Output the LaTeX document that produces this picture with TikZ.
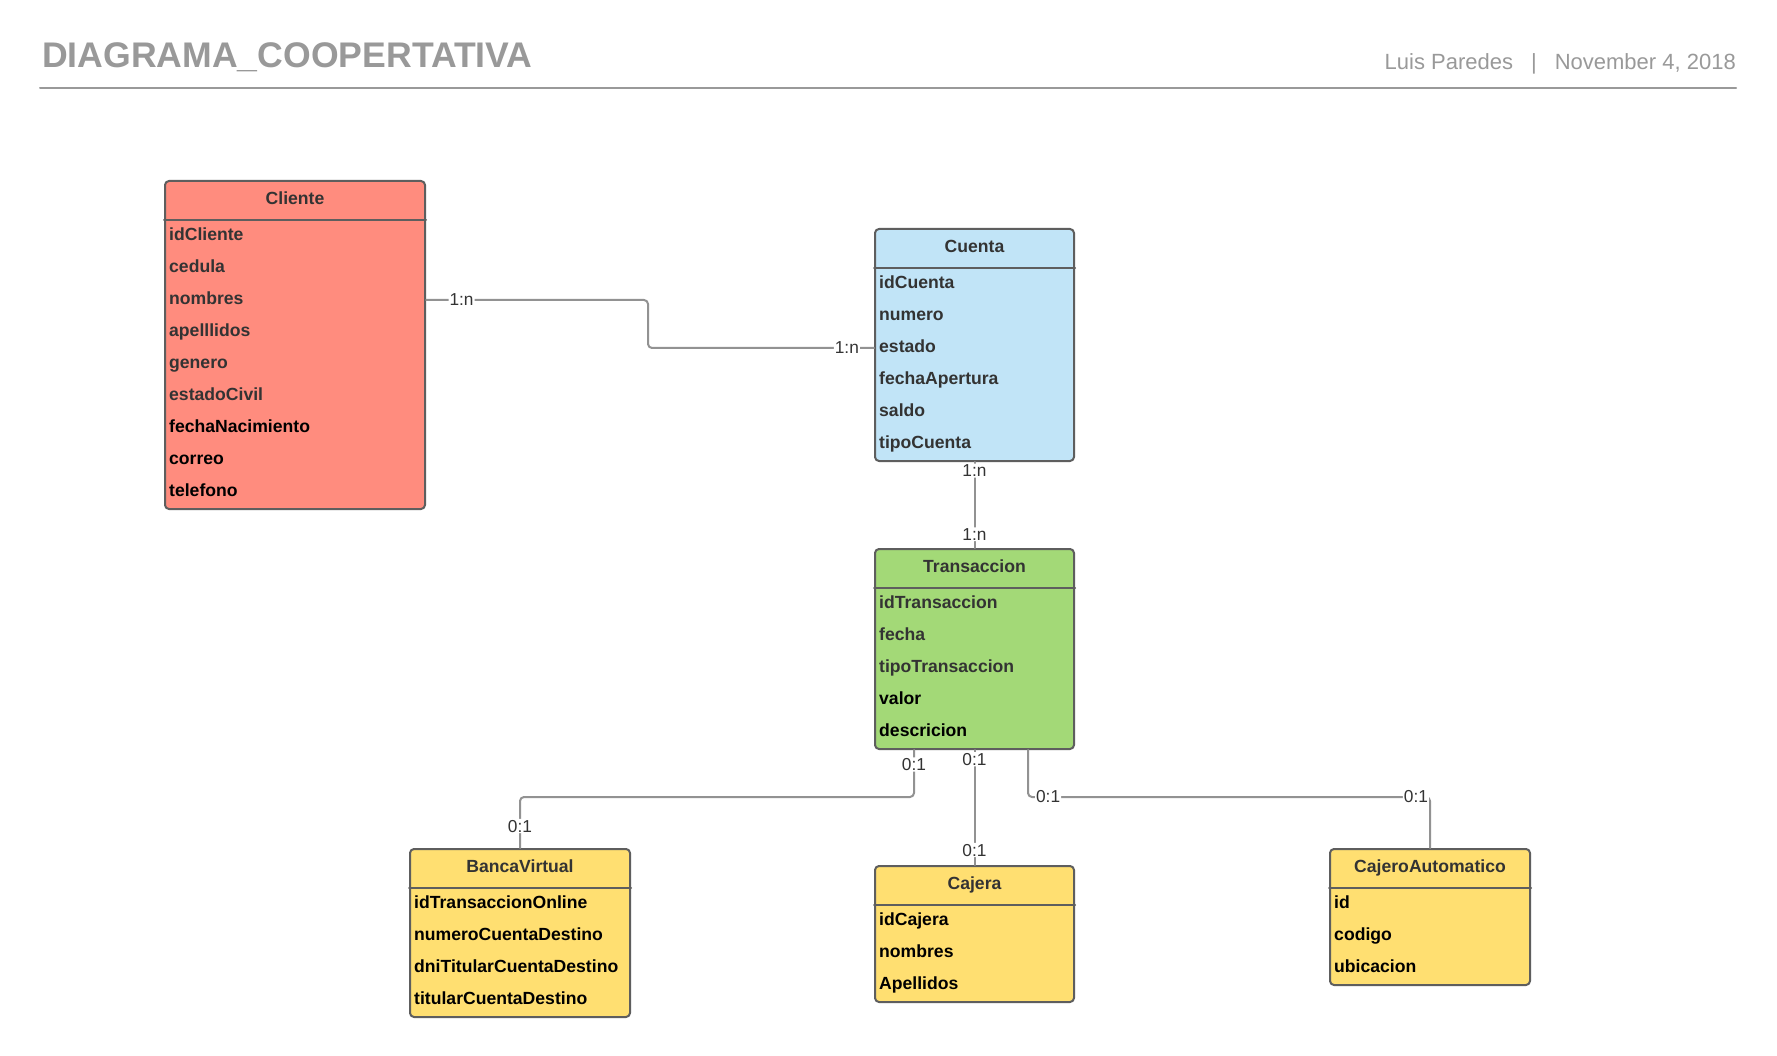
\documentclass[tikz,border=0pt]{standalone}
\usepackage{fontspec}
\setmainfont{Liberation Sans}
\usetikzlibrary{positioning}
\definecolor{headgray}{HTML}{999999}
\definecolor{edgegray}{HTML}{5E5E5E}
\definecolor{conngray}{HTML}{929292}
\definecolor{attrgray}{HTML}{333333}
\definecolor{clientefill}{HTML}{FF8C7E}
\definecolor{cuentafill}{HTML}{C1E4F7}
\definecolor{transfill}{HTML}{A3D977}
\definecolor{yellowfill}{HTML}{FFDF71}

\begin{document}
\begin{tikzpicture}[x=1pt,y=-1pt,line cap=round,line join=round,
  entbox/.style={draw=edgegray,line width=2pt,rounded corners=4pt,anchor=north west,inner sep=0pt},
  sepline/.style={draw=edgegray,line width=2pt},
  enttitle/.style={font=\fontsize{17.6}{20}\selectfont\bfseries,text=attrgray,text height=12.5pt,text depth=3.5pt,inner sep=0pt},
  attr/.style={font=\fontsize{17.6}{20}\selectfont\bfseries,anchor=west,text height=12.5pt,text depth=3.5pt,inner sep=0pt},
  conn/.style={draw=conngray,line width=2pt,rounded corners=4pt},
  card/.style={font=\fontsize{17.3}{20}\selectfont,text=attrgray,fill=white,inner sep=1pt}]
\useasboundingbox[fill=white] (0,0) rectangle (1777,1056);

% encabezado
\node[anchor=base west,inner sep=0pt,font=\fontsize{35.6}{40}\selectfont\bfseries,text=headgray] (titulo) at (42,68) {DIAGRAMA\_COOPERTATIVA};
\node[anchor=base east,inner sep=0pt,font=\fontsize{22}{26}\selectfont,text=headgray] (autor) at (1736,70) {Luis Paredes\hspace{18pt}|\hspace{18pt}November 4, 2018};
\draw[headgray,line width=2pt] (40,88) -- (1736,88);

% Cliente
\node[entbox,fill=clientefill,minimum width=260pt,minimum height=328pt] (cliente) at (164,180) {};
\draw[sepline] ([yshift=-40pt]cliente.north west) -- ([yshift=-40pt]cliente.north east);
\node[enttitle] (clienteT) at ([yshift=-20pt]cliente.north) {Cliente};
\foreach \a/\c [count=\i] in {idCliente/attrgray,cedula/attrgray,nombres/attrgray,apelllidos/attrgray,genero/attrgray,estadoCivil/attrgray,fechaNacimiento/black,correo/black,telefono/black}
  \node[attr,text=\c] (cli\i) at (169,{236+32*(\i-1)}) {\a};

% Cuenta
\node[entbox,fill=cuentafill,minimum width=199pt,minimum height=232pt] (cuenta) at (874,228) {};
\draw[sepline] ([yshift=-40pt]cuenta.north west) -- ([yshift=-40pt]cuenta.north east);
\node[enttitle] (cuentaT) at ([yshift=-20pt]cuenta.north) {Cuenta};
\foreach \a [count=\i] in {idCuenta,numero,estado,fechaApertura,saldo,tipoCuenta}
  \node[attr,text=attrgray] (cue\i) at (879,{284+32*(\i-1)}) {\a};

% Transaccion
\node[entbox,fill=transfill,minimum width=199pt,minimum height=200pt] (trans) at (874,548) {};
\draw[sepline] ([yshift=-40pt]trans.north west) -- ([yshift=-40pt]trans.north east);
\node[enttitle] (transT) at ([yshift=-20pt]trans.north) {Transaccion};
\foreach \a/\c [count=\i] in {idTransaccion/attrgray,fecha/attrgray,tipoTransaccion/attrgray,valor/black,descricion/black}
  \node[attr,text=\c] (tra\i) at (879,{604+32*(\i-1)}) {\a};

% BancaVirtual
\node[entbox,fill=yellowfill,minimum width=220pt,minimum height=168pt] (banca) at (409,848) {};
\draw[sepline] ([yshift=-40pt]banca.north west) -- ([yshift=-40pt]banca.north east);
\node[enttitle] (bancaT) at ([yshift=-20pt]banca.north) {BancaVirtual};
\foreach \a [count=\i] in {idTransaccionOnline,numeroCuentaDestino,dniTitularCuentaDestino,titularCuentaDestino}
  \node[attr] (ban\i) at (414,{904+32*(\i-1)}) {\a};

% Cajera
\node[entbox,fill=yellowfill,minimum width=199pt,minimum height=136pt] (cajera) at (874,865) {};
\draw[sepline] ([yshift=-40pt]cajera.north west) -- ([yshift=-40pt]cajera.north east);
\node[enttitle] (cajeraT) at ([yshift=-20pt]cajera.north) {Cajera};
\foreach \a [count=\i] in {idCajera,nombres,Apellidos}
  \node[attr] (caj\i) at (879,{921+32*(\i-1)}) {\a};

% CajeroAutomatico
\node[entbox,fill=yellowfill,minimum width=200pt,minimum height=136pt] (cajero) at (1329,848) {};
\draw[sepline] ([yshift=-40pt]cajero.north west) -- ([yshift=-40pt]cajero.north east);
\node[enttitle] (cajeroT) at ([yshift=-20pt]cajero.north) {CajeroAutomatico};
\foreach \a [count=\i] in {id,codigo,ubicacion}
  \node[attr] (atm\i) at (1334,{904+32*(\i-1)}) {\a};

% relaciones
\coordinate (bendCC) at (648,0);
\coordinate (busY) at (0,797);
\coordinate (tbL) at ([xshift=-60.5pt]trans.south);
\coordinate (tbR) at ([xshift=53.5pt]trans.south);
\draw[conn] (cli3 -| cliente.east) -- node[card,pos=0.16]{1:n} (cli3 -| bendCC) -- (cue3 -| bendCC) -- node[card,pos=0.88]{1:n} (cue3 -| cuenta.west);
\draw[conn] (cuenta) -- node[card,pos=0.1]{1:n} node[card,pos=0.84]{1:n} (trans);
\draw[conn] (tbL) -- node[card,pos=0.31]{0:1} (tbL |- busY) -- (banca.north |- busY) -- node[card,pos=0.57]{0:1} (banca.north);
\draw[conn] (trans) -- node[card,pos=0.08]{0:1} node[card,pos=0.87]{0:1} (cajera);
\draw[conn] (tbR) -- (tbR |- busY) -- node[card,pos=0.05]{0:1} node[card,pos=0.965]{0:1} (cajero.north |- busY) -- (cajero.north);
\end{tikzpicture}
\end{document}
